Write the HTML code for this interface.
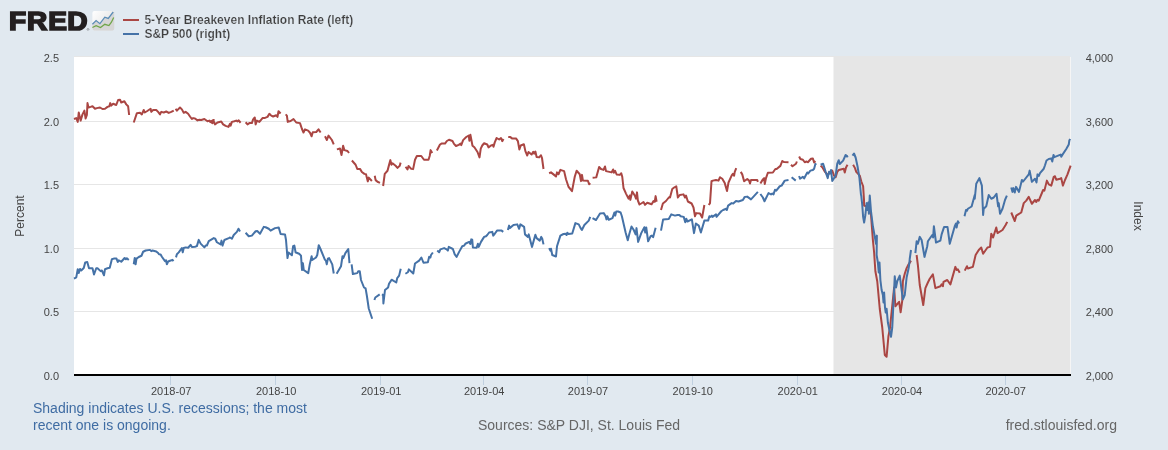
<!DOCTYPE html>
<html><head><meta charset="utf-8">
<style>
html,body{margin:0;padding:0;background:#e1e9f0;}
svg{display:block;font-family:"Liberation Sans",Arial,sans-serif;}
</style></head><body>
<svg width="1168" height="450" viewBox="0 0 1168 450">
<rect x="0" y="0" width="1168" height="450" fill="#e1e9f0"/>
<rect x="74" y="57" width="997" height="318" fill="#ffffff"/>
<rect x="74" y="56" width="996" height="1" fill="#e6e6e6"/>
<rect x="833.5" y="56" width="236.5" height="319" fill="#e6e6e6"/>
<rect x="1070" y="57" width="1" height="318" fill="#f5f5f5"/>
<!--GRID-->
<g stroke="#e6e6e6" stroke-width="1">
<line x1="74" x2="834" y1="121.5" y2="121.5"/>
<line x1="74" x2="834" y1="184.5" y2="184.5"/>
<line x1="74" x2="834" y1="248.5" y2="248.5"/>
<line x1="74" x2="834" y1="311.5" y2="311.5"/>
</g>
<rect x="74" y="374" width="997" height="2" fill="#000"/>
<g font-size="11" fill="#444" text-anchor="end">
<text x="59" y="62">2.5</text><text x="59" y="126">2.0</text><text x="59" y="189">1.5</text><text x="59" y="253">1.0</text><text x="59" y="316">0.5</text><text x="59" y="380">0.0</text>
</g>
<g font-size="11" fill="#444" text-anchor="start">
<text x="1085.7" y="62">4,000</text><text x="1085.7" y="126">3,600</text><text x="1085.7" y="189">3,200</text><text x="1085.7" y="253">2,800</text><text x="1085.7" y="316">2,400</text><text x="1085.7" y="380">2,000</text>
</g>
<g font-size="11" fill="#444" text-anchor="middle">
<text x="171.2" y="395">2018-07</text><text x="276.2" y="395">2018-10</text><text x="381.2" y="395">2019-01</text><text x="484.2" y="395">2019-04</text><text x="588" y="395">2019-07</text><text x="692.8" y="395">2019-10</text><text x="797.8" y="395">2020-01</text><text x="902" y="395">2020-04</text><text x="1005.7" y="395">2020-07</text>
</g>
<text x="33" y="413.3" font-size="14" fill="#3f6ca3">Shading indicates U.S. recessions; the most</text>
<text x="33" y="429.7" font-size="14" fill="#3f6ca3">recent one is ongoing.</text>
<text x="478" y="430" font-size="14" fill="#666">Sources: S&amp;P DJI, St. Louis Fed</text>
<text x="1117" y="430" font-size="14" fill="#666" text-anchor="end">fred.stlouisfed.org</text>
<text x="144.4" y="24.2" font-size="12" font-weight="bold" fill="#3e3e3e" stroke="#e1e9f0" stroke-width="0.2">5-Year Breakeven Inflation Rate (left)</text>
<text x="144.4" y="38.2" font-size="12" font-weight="bold" fill="#3e3e3e" stroke="#e1e9f0" stroke-width="0.2">S&amp;P 500 (right)</text>

<!--HEADER-->
<defs>
<linearGradient id="ig" x1="0" y1="0" x2="1" y2="0.7"><stop offset="0" stop-color="#ffffff"/><stop offset="1" stop-color="#e2e2e2"/></linearGradient>
</defs>
<text transform="scale(1.08 1)" x="8.32 24.95 44.6 62.3" y="29.7" font-size="26" font-weight="bold" fill="#231f20" stroke="#231f20" stroke-width="1.7" stroke-linejoin="miter">FRED</text>
<text x="86.8" y="30.9" font-size="3.6" fill="#231f20">®</text>
<rect x="92.4" y="11" width="21.8" height="19.6" rx="2" fill="url(#ig)"/>
<path d="M92.4 24.3 L96.1 20.6 L99.9 23.7 L104.8 17.2 L108.25 18.4 L113.2 12 L114.2 12 L114.2 28.6 Q114.2 30.6 112.2 30.6 L94.4 30.6 Q92.4 30.6 92.4 28.6 Z" fill="#d6d6d6"/>
<path d="M92.4 24.3 L96.1 20.6 L99.9 23.7 L104.8 17.2 L108.25 18.4 L113.2 12" fill="none" stroke="#5b8cb6" stroke-width="1.25"/>
<path d="M92.4 27.5 L96.1 25.6 L100.5 27.5 L104.8 24.3 L108.9 25.6 L111.4 22.2 L113.7 17.4" fill="none" stroke="#6fa548" stroke-width="1.25"/>
<rect x="123" y="19" width="16" height="2" fill="#aa4643"/>
<rect x="123" y="33" width="16" height="2" fill="#4572a7"/>
<text transform="translate(24,216) rotate(-90)" font-size="12" fill="#444" text-anchor="middle">Percent</text>
<text transform="translate(1134,216) rotate(90)" font-size="12" fill="#444" text-anchor="middle">Index</text>
<g fill="#c0d0e0">
<rect x="170" y="376" width="1" height="9"/><rect x="275" y="376" width="1" height="9"/><rect x="380" y="376" width="1" height="9"/><rect x="483" y="376" width="1" height="9"/><rect x="587" y="376" width="1" height="9"/><rect x="692" y="376" width="1" height="9"/><rect x="797" y="376" width="1" height="9"/><rect x="901" y="376" width="1" height="9"/><rect x="1005" y="376" width="1" height="9"/>
</g>
<!--/HEADER-->
<!--CURVES--><g fill="none" stroke-linejoin="round" stroke-linecap="butt" stroke-width="2">
<path d="M74 119 L76.25 118.12 L77.75 121.88 L78.75 112.5 L80.62 120.62 L82.5 114.38 L84.38 110.62 L85.62 118.5 L86.88 115 L87.5 103.12 L88.5 107.5 L90.62 106.88 L92.5 106.25 L95 108.75 L96.88 108.12 L100 107.5 L102.5 109 L105 108.75 L107.5 106.88 L109.38 106.25 L110.25 103.12 L111.25 105.62 L113.12 103.75 L116.25 105 L118.12 100 L120 99.75 L121.25 102.5 L124.38 101.25 L126.25 104.38 L128.12 106.25 L129.12 115 M133.75 122.5 L136.88 113.12 L140 112.75 L141.88 114.38 L143.75 110 L144.75 112.5 L146.88 111.25 L148.75 110 L150.62 108.75 L151.25 111.88 L153.12 110 L156.25 110 L158.12 111.88 L160 114.38 L161.25 111.88 L163.75 112.5 L166.25 111.5 L168.75 112.88 L171.25 111.88 L173.75 110.62 M175.62 108.75 L176.88 110.62 L180 107.5 L181.88 109.38 L183.75 112.75 L185.62 111.88 L188.12 113.75 L190 116.5 L191.88 119 L193.12 118.12 L195 118.5 L197.5 120.38 L199.38 119.75 L201.25 120 L204.38 119 L207.5 121.25 L209.38 120.62 L212.5 123.12 L213.75 120 L210 121.88 L211.88 122.5 L213.12 120 L215 124.38 L217.5 122.5 L221.25 121.5 L223.12 124.38 L225.62 125.88 L228.5 126.88 L230 123.75 L230.62 125.62 L231.88 121.88 L234.38 121.25 L236.25 120.62 L237.5 121.5 L238.5 120.25 L240.62 122.75 M245.62 122.25 L247.5 124.38 L249.38 123.12 L251.88 123.12 L253.12 119.38 L254.75 117.5 L255.62 124.38 L256.88 120.62 L259.38 121.88 L262.5 118.12 L265 117.88 L267.5 116.88 L269.38 113.75 L271.25 115.62 L273.12 116.5 L276.25 115.25 L277.5 116.88 L278.5 111.25 L280.62 113.5 M285.62 114.38 L286.88 115.62 L287.75 121.88 L290.62 121 L293.5 119 L296.25 122.5 L300 123.12 L301.88 128.75 L303.5 132.5 L305 129.38 L308.12 130.62 L310 132.75 L311.62 136.25 L312.75 132.25 L316.25 132 L318.5 129.38 L320.62 132.5 M325 136.25 L326.88 140 L328.5 135.62 L331.88 140 L333.75 144.38 M336.88 149.38 L340 148.5 L341.5 155 L343.12 145.75 L344.38 150.12 L347.5 151 L349 153 M351.88 160.5 L355.62 164.75 L357.25 168.88 L360 168.88 L361.88 172 L364.38 173.88 L366 174.25 L367.75 181.38 L368.75 177.62 L371.88 181 M374.75 175.75 L375.62 180.12 L377.5 181.75 L380 182.88 M383.12 186 L384.75 173.88 L387.5 170.75 L389 165.12 L390.38 160.12 L391.5 164.75 L392.5 163.25 L395.62 165.75 L397.5 167.88 L399.75 165.75 L400.62 162.62 M405.62 166.75 L407.5 169.5 L408.5 166 L411.25 168.88 L413.12 169.12 L415 159.75 L416.88 156 L421.25 156 L424 159.75 L428.5 159.75 L429.75 155.75 L430.62 150.12 L432.25 153 M436.88 150.5 L440 144.5 L441.5 143.62 L445 143.62 L446.88 141 L449 139.75 L452.5 141 L454 143.88 L456 146 L458.75 144.88 L460.62 143.62 L461.25 145.12 L463.12 140.12 L466.25 137 L468.75 135.5 L469.38 140.75 L470.38 134.75 L472.5 145.75 L474.38 147.25 L477.5 152 L479.5 157.38 L480.75 148.62 L482.25 145.5 L484.12 143.25 L487.25 144.5 L488.5 147.38 L491 145.5 L492.88 144.88 L493.5 146.75 L494.75 142.38 L496.62 138 L499.12 139.5 L501 138 L502.25 141.12 L503.5 139 M508.25 137 L510.38 137.12 L512 138.38 L516 138.38 L517.88 141.12 L519.38 149.5 L520.75 145.5 L523.88 144.25 L525.38 151.12 L527.25 155.5 L528.5 152 L531.62 154.5 L533.25 151.75 L534.12 153.62 L535.38 151.5 L536.62 157 L539.12 157.38 L541 155.25 L542 158 L543.5 169 M549.12 173.25 L551 172.38 L554.12 174.88 L556 176.5 L557 172.38 L558.5 174.25 L560.38 169.88 L564.12 171.12 L566 179.25 L568.5 186.75 L572 191.12 L574.75 176.75 L576.62 170.75 L579.75 174.25 L581 181.12 L582 174.88 L582.88 180.5 L587.88 180.75 L589.12 184.25 L590.38 183.25 M592.62 177.75 L596.25 177.38 L599.12 167 L601 169 L603.5 169.88 L605 166.5 L606 171.12 L611.62 172.38 L613.12 169.5 L613.88 172.75 L615.12 170.75 L616.62 174.5 L619.75 174.88 L621.25 173.25 L622.25 176.75 L623.5 188 L626 193.62 L628.5 198.62 L629.75 195.5 L630.38 199.88 L632.25 191.5 L634.75 195.5 L636 198.62 L637 192.38 L637.88 200.5 L639.5 204.5 L641.62 203.25 L643.5 202 L645 204.88 L647.25 202.75 L651.62 204.25 L653.5 201.12 L654.75 201.75 L655.62 196.12 L656.62 201.75 M661 210 L662.88 203.5 L666 201 L669 197.25 L670 197.5 L672.25 189 L674.12 187.5 L676.25 186.25 L677.88 197.5 L679.75 195 L683.5 194.38 L685 197.5 L686 195.62 L687.88 201.5 L691.62 203.5 L693.5 207.5 L695 216.25 L696.25 213.12 L700 213.5 L702.12 217.5 L704.38 205 M708.75 205 L710 203.12 L711.5 181.25 L712.88 180.62 L716 180 L718.5 180.62 L720 177.25 L722.25 178.75 L724.75 183.12 L727 191 L728.5 182.5 L731.62 175.62 L732.88 173.75 L734.12 175.62 L734.75 171.88 L736.25 168.12 M740.75 171.88 L742.25 174.38 L744.12 181.25 L747.25 179 L749.12 180.62 L750 183.5 L751 180 L757.25 180 L757.88 181.88 M760.38 183.5 L762.88 179.38 L764.12 178.12 L764.75 184 L766 178.12 L767.88 172.75 L772.88 172.5 L775.38 169 L776.62 169 L780.38 165.88 L782.25 161 L784.12 162.12 L788.5 162.25 M791 164.75 L792.5 166.25 L796 163.75 L796.88 161.5 M799.12 156.5 L800.38 159 L802.88 159.75 L804.75 162.25 L806.62 161.5 L807.88 162.25 L811 158.75 L812.88 158.5 L814.12 162.5 L815.38 161 M820.62 165.62 L822.5 167.5 L825 171.88 L827.75 175 L830 171.88 L832.25 170.62 L834 175.62 L835.62 177.25 L837.25 171.88 L838.75 170 L843.75 168.75 L844.75 172.5 L846 167.5 L847.5 164.75 M853.12 164.75 L855 168.12 L856.25 171.88 L859.75 175.62 L861.25 181.25 L863.12 186.25 L864 200 L864.12 205.62 L866 206.25 L869.12 208.75 L871 215 L872.88 240 L874.12 252.5 L875.38 271.25 L877.25 281.25 L879.75 308.75 L882.25 327.5 L884.8 355 L886.6 356.8 L888.4 336.5 L890 327.75 L894.12 287.5 L895.38 306.25 L899.12 301.88 L900.62 312.25 L902.25 300.62 L902.88 281.25 L904.75 273.75 L906.62 268.12 L907.88 265.62 L911 260.62 M916.62 255 L917.88 265 L919.75 285 L923.25 305 L925.38 288.12 L927.88 282.5 L929.75 278.75 L932.88 274.38 L935.38 288.12 L940.38 286.25 L941.62 284.38 L942.88 286.25 L943.5 281.88 L947.25 280 L950.38 284.38 L955.38 266.88 L956.62 270 L957.88 269.38 L959.75 272.75 M964.75 270.62 L967 266.25 L967.88 268.5 L972.88 266.88 L975.62 255 L978.75 250 L981.25 247.5 L983.12 253.75 L987.5 247.5 L990 246.88 L991.25 233.75 L993.12 237.5 L996.25 227.5 L997.5 233.12 L1002.5 230 L1005.62 225 L1007.25 221.88 M1011.25 212.5 L1014.75 221 L1016.25 215.62 L1021.25 212.5 L1023.75 203.12 L1026.25 200.62 L1028.75 196.88 L1031.88 203.75 L1035 200 L1036.25 201.88 L1037.5 199.75 L1038.75 200.62 L1043.12 190 L1044.38 190.62 L1046.88 180.62 L1048.75 184.38 L1051.25 185.62 L1053.75 176.88 L1055 176.25 L1056.25 179.75 L1060 178.75 L1061.25 178.12 L1062.88 185.62 L1065 180 L1067.5 174.38 L1070.62 165.62" stroke="#aa4643"/>
<path d="M74 278.62 L76.25 277.38 L77.75 269.25 L78.75 273 L80 269 L81.25 270.5 L83.75 268 L85.25 262.38 L87.25 262 L89 268.25 L92.5 268.25 L94 274.5 L96.25 268.25 L97.5 268.25 L100.62 271.12 L101.88 270.5 L104 275.25 L105 269.25 L107.5 268.25 L109.75 267.75 L111.88 259.25 L113.75 258.62 L116.5 258.62 L117.75 262 L118.75 260.25 L121.25 261.75 L124.62 258 L125.88 259.25 L126.88 258.25 L128.75 259.88 M133.75 264.25 L134.75 258 L135.62 264.25 L136.5 258.62 L138.75 257 L141.5 255.75 L143.12 251.75 L145.62 250.5 L150 249.88 L151.25 251.12 L152.5 250.5 L156.25 251.5 L158.12 253 L159 254.25 L160.62 254.5 L161.88 256.75 L165 261.12 L166 260.25 L166.88 264.25 L168.12 261.5 L170 260.75 L172.5 259.88 L173.5 261.12 M176 257.38 L176.88 254.25 L178.75 252.38 L181.88 248 L182.75 252.38 L183.75 248 L185.62 247.38 L188.12 247.75 L190.62 244.88 L191.88 247 L195 246.75 L196.88 246.12 L198.75 239.88 L200.62 243.62 L204.38 247.38 L205.62 245.5 L206.88 245.5 L208.75 241.12 L213.75 238.12 L215.25 238.75 L216.88 242.25 L220.62 244.38 L221.5 240.62 L222.5 245.62 L224.38 240 L228.75 238.12 L230 237.5 L231.88 238.75 L233.75 235 L236.88 231.88 L238.5 228.75 L240 231.5 M245.62 232.75 L248.75 236.25 L251.88 235.62 L255.62 231.25 L257.25 231 L260 233.75 L263.75 226.88 L265.62 227.25 L268.75 228.75 L270.62 230.62 L275 228.12 L278.75 227.5 L280.62 234 L285 234.38 L286 240 L287.5 258.12 L288.5 252.5 L291.88 255.25 L293.12 246.25 L294.38 245.62 L295.62 252.5 L296 252.5 L299.12 253.75 L301 255.62 L302 270 L302.88 263.12 L303.75 270 L308.25 273.12 L309.75 264.38 L311.62 256.25 L312.25 260 L316 257.5 L317.25 255 L318.75 245.25 L320.38 248.75 L324.75 259.38 L326 261 L326.75 264.38 L327.88 258.75 L329.12 258.12 L332.25 264.38 L333.75 273.5 M336.62 273.75 L341 266.25 L342.5 256.25 L343.25 258.12 L345.38 253.12 L348.25 249 L349.5 263.12 M351.62 264.38 L352.88 274 L357.25 273.12 L358.25 271.25 L359.75 271.25 L361 280 L364 287.5 L365.6 288.4 L366.9 296 L368.75 308.5 L372.2 318.8 M374.4 300 L375.3 297.5 L379.7 294.4 M381.9 294.4 L383.1 295 L383.4 303.5 L385 290 L388.1 287.5 L389 283.8 L391.6 279.7 L396.25 282.5 L397.2 278.1 L399.12 275.62 L400.75 268.75 M405.38 273.75 L407.88 272.25 L408.88 269.38 L413.25 273.5 L415 263.5 L419.12 260.62 L421.38 257.5 L423.5 262.75 L427.88 262.25 L429.12 256.88 L430.38 257.5 L431 255 L432.88 252.5 M437.25 250.62 L439.12 252.25 L440.38 249.38 L444.12 248.12 L446.62 249.38 L447.88 250.62 L448.75 246.88 L452.88 249 L454.75 254.38 L456.62 256.88 L459.12 251.88 L462.25 246.25 L464.12 245.62 L465.38 243.75 L469.12 241.88 L470.38 244 L471.25 239.38 L472.25 239.75 L472.88 247.5 L476.62 247.75 L477.88 243.75 L478.75 246.88 L481 241.88 L484.12 236.88 L486 236.25 L487.25 235 L489.12 232.5 L492.25 231.88 L493.25 235.62 L494.75 233.75 L497 230.62 L501.62 230.62 L503.25 231.88 M507.88 230 L509.12 225.62 L509.75 228.12 L513.5 225 L517.25 224.38 L519.12 228.75 L520.38 224.38 L524.12 226.88 L525 234.38 L527.88 236.88 L528.75 234.38 L532 246.88 L535.38 234.75 L536.62 238.12 L539.75 240.62 L541.25 236.88 L542.25 238.75 L543.5 244.38 M549.12 248.12 L550.38 250.62 L551 248.75 L552.25 255 L556 256.5 L557 246.25 L560.38 235.62 L563.5 234 L565.38 233.75 L566.62 235 L567.25 232.75 L568.5 234 L572.25 233.5 L575.38 223.12 L578.75 224.38 L580.62 228.12 L581.88 230 L584.38 225 L588.75 220.62 L590.25 216.88 M592.5 218.12 L596 220 L600 213.5 L603.75 213.12 L605.62 216.25 L606.5 219.38 L607.25 216.25 L608.75 219.75 L612.5 218.12 L614.38 212.5 L615.25 215.62 L616.25 211.5 L618.12 211.5 L620.62 212.5 L621.88 216.25 L625.62 232.5 L627.75 240.25 L629.38 233.75 L631.5 226.5 L633.75 230 L635.62 234.38 L636.5 228.12 L638.12 241.88 L641.25 233.12 L644.38 227.25 L645.25 232.5 L646.25 227.5 L648.12 241.25 L650.62 236.25 L651.88 235.62 L653.12 237.25 L655.62 227.75 M661 230.62 L663.12 219.38 L668.75 219 L671.25 214.38 L675 215.62 L677.5 215 L679.38 215 L680.62 216.25 L683.75 216.88 L685.25 222.25 L686.25 218.75 L687.5 221.5 L691.88 219.38 L694 233.12 L695.88 223.5 L698.75 225.62 L700.88 232.5 L704.38 220.62 L708.12 220.62 L709.38 216.25 L710.62 216.88 L711.88 215.62 L712.5 216.88 L716 214.38 L716.5 216.88 L721.25 211.25 L723.12 210 L726.25 208.75 L726.88 210 L728.12 205.62 L731.62 203.12 L733.25 203.5 L736 201 L738.5 201.5 L742.88 200 L744.75 196.88 L747.25 196.62 L751 199.38 L757.88 191.88 M760.38 194 L762.88 197.5 L764.5 201.25 L768.5 193.12 L771 194.38 L772.25 193.5 L773.5 194.38 L775 189.75 L776.25 190.62 L779.75 186.25 L781.62 185.62 L784.75 180.62 L788.5 180 M791.62 177.25 L795.75 180.62 M799.12 176 L800 178.75 L802.88 176.88 L804.12 178.5 L807.25 172.5 L808.25 173.5 L810.38 170.62 L812.88 170 L814.12 168.75 L815.38 164 L816.38 164.75 M820.62 164.75 L823.12 163.75 L825.62 171.88 L827.75 178.12 L829 171.88 L830 173.5 L831 170 L832.25 181 L835.62 175.62 L837.25 163.75 L838.75 160.25 L839.75 164 L843.12 160.62 L845.62 155 L846.88 156.5 L848.12 156 M852.5 155.62 L854 153.5 L855.62 157.5 L857.5 166.25 L859.38 177.5 L861 195 L861.25 195.62 L862.25 205 L863.12 216.88 L864.12 222.5 L865.38 215 L866.62 203.12 L867.5 210 L868.25 202.5 L868.88 213.75 L869.75 195.62 L871 211.25 L872.88 226.25 L875.38 240 L876 243.75 L876.88 235.62 L876.62 255 L877.88 262.5 L878.75 272.5 L879.5 262.5 L880.38 280 L881.62 290 L882.88 295 L883.5 302.5 L884.12 292.5 L885 307.5 L885.75 312.5 L886.62 308.75 L887.88 322.5 L889.12 328.75 L891 336.88 L892.25 327.5 L893.5 302.5 L894.75 276.25 L896 287.5 L897.25 281.25 L899.75 275.62 L901.62 290 L902.88 299.38 L904.75 295 L906.62 277.5 L908.5 268.75 L909.12 265 L909.75 258.75 L911 250 M915.38 253.12 L916.62 241.25 L917.88 243.75 L919.75 236.88 L921.62 240 L924.5 256.88 L927.25 246.25 L927.88 241.25 L932.25 235 L933.12 237.5 L933.88 226.25 L936 242.5 L940.38 240.62 L941.62 234.38 L944.12 226.88 L947.5 226.88 L949.75 243.75 L954.75 226.25 L956 223.5 L956.62 227.5 L957.88 221.25 L959.12 223.5 M964.5 216.25 L966 210 L967 210.62 L967.88 208.75 L971.62 206.5 L974.75 195 L974.75 198.75 L976.25 183.75 L979.38 178.12 L981.88 185.62 L983.12 215 L983.75 208.75 L986.25 206.25 L988.75 195 L991.25 198.75 L993.75 197.5 L996.5 193.75 L998.12 206.25 L998.75 203.12 L1000 213.75 L1002.5 208.75 L1005 200 L1006.88 195.62 M1011.25 187.5 L1012.5 191.88 L1013.38 188.12 L1014.75 192.5 L1016 186.88 L1019 191.88 L1021.88 180 L1023.12 181.5 L1028.75 174.38 L1029.62 170.62 L1031.88 181.88 L1035 178.75 L1036.5 182.5 L1037.5 174.38 L1038.75 176 L1040 173.12 L1043.75 168.75 L1045 165.25 L1046.5 160.5 L1048.75 159 L1051.25 158.38 L1052.25 161.5 L1053.5 155 L1054.38 157.12 L1060.62 154.62 L1061.25 156.75 L1062.5 154.62 L1066.25 149 L1068.75 144.62 L1069.38 140.25 L1070.25 139" stroke="#4572a7"/>
</g><!--/CURVES-->
</svg>
</body></html>
